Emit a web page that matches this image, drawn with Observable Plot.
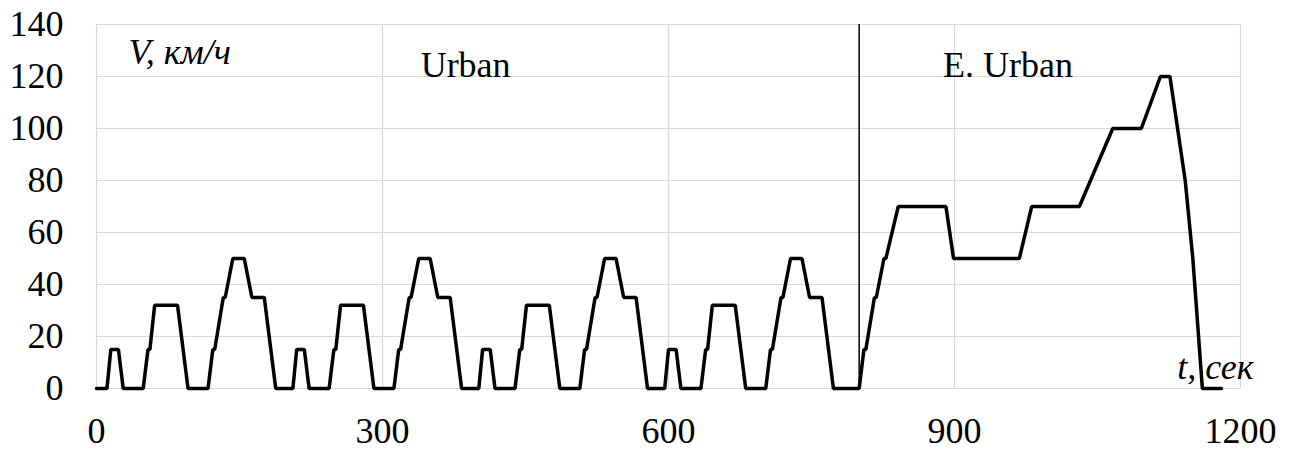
<!DOCTYPE html>
<html>
<head>
<meta charset="utf-8">
<script src="https://cdn.jsdelivr.net/npm/d3@7"></script>
<script src="https://cdn.jsdelivr.net/npm/@observablehq/plot@0.6"></script>
</head>
<body style="margin:0">
<div id="chart"></div>
<script>
// Time (s) and speed (km/h) — NEDC-like cycle
const times = [
  0, 11, 15, 23, 28, 49, 54, 56, 61, 85, 96, 117, 122, 124, 133, 135, 143, 155, 163, 176, 188, 195,
  206, 210, 218, 223, 244, 249, 251, 256, 280, 291, 312, 317, 319, 328, 330, 338, 350, 358, 371, 383, 390,
  401, 405, 413, 418, 439, 444, 446, 451, 475, 486, 507, 512, 514, 523, 525, 533, 545, 553, 566, 578, 585,
  596, 600, 608, 613, 634, 639, 641, 646, 670, 681, 702, 707, 709, 718, 720, 728, 740, 748, 761, 773, 780,
  800, 805, 807, 816, 818, 826, 828, 841, 891, 899, 968, 981, 1031, 1066, 1096, 1116, 1126, 1142, 1150, 1160, 1180
];
const speeds = [
  0, 0, 15, 15, 0, 0, 15, 15, 32, 32, 0, 0, 15, 15, 35, 35, 50, 50, 35, 35, 0, 0,
  0, 15, 15, 0, 0, 15, 15, 32, 32, 0, 0, 15, 15, 35, 35, 50, 50, 35, 35, 0, 0,
  0, 15, 15, 0, 0, 15, 15, 32, 32, 0, 0, 15, 15, 35, 35, 50, 50, 35, 35, 0, 0,
  0, 15, 15, 0, 0, 15, 15, 32, 32, 0, 0, 15, 15, 35, 35, 50, 50, 35, 35, 0, 0,
  0, 15, 15, 35, 35, 50, 50, 70, 70, 50, 50, 70, 70, 100, 100, 120, 120, 80, 50, 0, 0
];
const xTicks = [0, 300, 600, 900, 1200];
const yTicks = [0, 20, 40, 60, 80, 100, 120, 140];
const boundary = [800];
const regionLabels = ["Urban", "E. Urban"];
const regionX = [340, 888];
const regionY = [120, 120];
const yLabel = "V, км/ч";
const xLabel = "t, сек";

const data = times.map((t, i) => ({t, v: speeds[i]}));
const regions = regionLabels.map((s, i) => ({s, x: regionX[i], y: regionY[i]}));
const F = "Liberation Serif";

const chart = Plot.plot({
  width: 1296,
  height: 450,
  marginLeft: 96,
  marginRight: 56,
  marginTop: 24,
  marginBottom: 62,
  style: "font-family: 'Liberation Serif'; font-size: 36px; color: black; background: white;",
  x: { domain: [0, 1200] },
  y: { domain: [0, 140] },
  marks: [
    Plot.gridX(xTicks, { stroke: "#d9d9d9", strokeOpacity: 1, strokeWidth: 1.2 }),
    Plot.gridY(yTicks, { stroke: "#d9d9d9", strokeOpacity: 1, strokeWidth: 1.2 }),
    Plot.axisX(xTicks, { tickSize: 0, tickPadding: 29, label: null, fontSize: 36, fontFamily: F, fontVariant: "normal", tickFormat: d => String(d) }),
    Plot.axisY(yTicks, { tickSize: 0, tickPadding: 33, label: null, fontSize: 36, fontFamily: F, fontVariant: "normal", tickFormat: d => String(d) }),
    Plot.ruleX(boundary, { y1: 0, y2: 140, stroke: "black", strokeWidth: 1.5 }),
    Plot.line(data, { x: "t", y: "v", stroke: "black", strokeWidth: 3.5, strokeLinejoin: "miter" }),
    Plot.text(regions, { x: "x", y: "y", text: "s", textAnchor: "start", lineAnchor: "bottom", fontSize: 36, fontFamily: F, fill: "black" }),
    Plot.text([yLabel], { frameAnchor: "top-left", textAnchor: "start", lineAnchor: "bottom", dx: 32, dy: 39, fontSize: 36, fontFamily: F, fontStyle: "italic", fill: "black" }),
    Plot.text([xLabel], { frameAnchor: "bottom-right", textAnchor: "end", lineAnchor: "bottom", dx: 13, dy: -10, fontSize: 36, fontFamily: F, fontStyle: "italic", fill: "black" })
  ]
});
document.getElementById("chart").appendChild(chart);
</script>
</body>
</html>
